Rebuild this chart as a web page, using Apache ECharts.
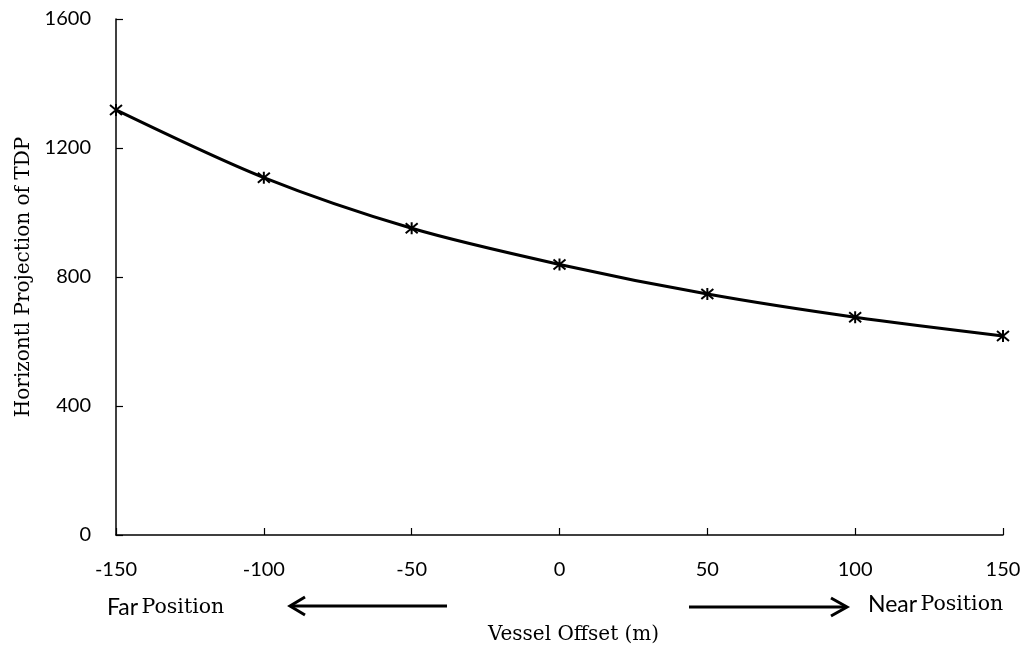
<!DOCTYPE html>
<html><head><meta charset="utf-8">
<script src="https://cdn.jsdelivr.net/npm/echarts@6/dist/echarts.min.js"></script>
<style>html,body{margin:0;padding:0;background:#fff}#c{width:1032px;height:650px}</style>
</head><body><div id="c"></div>
<script>
const offsets = [-150, -100, -50, 0, 50, 100, 150];
const tdpValues = [1318, 1108, 951, 839, 747, 675, 617];
const xTicks = [-150, -100, -50, 0, 50, 100, 150];
const yTicks = [0, 400, 800, 1200, 1600];
const xTitle = 'Vessel Offset (m)';
const yTitle = 'Horizontl Projection of TDP';

const sans = 'Lato, "Open Sans", sans-serif';
const serif = '"DejaVu Serif", "Liberation Serif", serif';
const star = 'path://M0,0 L10,10 M10,0 L0,10 M5,-1 L5,11';

const chart = echarts.init(document.getElementById('c'));
chart.setOption({
  animation: false,
  backgroundColor: '#fff',
  grid: {left: 116, right: 29, top: 19, bottom: 115, containLabel: false},
  xAxis: {
    type: 'value', min: -150, max: 150, interval: 50,
    axisLine: {onZero: false, lineStyle: {color: '#000', width: 1.5}},
    axisTick: {show: true, inside: false, length: -7, lineStyle: {color: '#000', width: 1.2}},
    splitLine: {show: false},
    axisLabel: {color: '#000', fontSize: 20, fontFamily: sans, margin: 25, formatter: v => String(v)},
    name: xTitle, nameLocation: 'middle', nameGap: 90,
    nameTextStyle: {color: '#000', fontSize: 20, fontFamily: serif, padding: [0, 0, 0, 28]}
  },
  yAxis: {
    type: 'value', min: 0, max: 1600, interval: 400,
    axisLine: {show: true, onZero: false, lineStyle: {color: '#000', width: 1.5}},
    axisTick: {show: true, inside: false, length: -7, lineStyle: {color: '#000', width: 1.2}},
    splitLine: {show: false},
    axisLabel: {color: '#000', fontSize: 20, fontFamily: sans, margin: 25, formatter: v => String(v)},
    name: yTitle, nameLocation: 'middle', nameGap: 72, nameRotate: 90,
    nameTextStyle: {color: '#000', fontSize: 20, fontFamily: serif}
  },
  series: [{
    type: 'line',
    data: offsets.map((x, i) => [x, tdpValues[i]]),
    smooth: 0.3,
    lineStyle: {color: '#000', width: 3},
    symbol: star, symbolSize: 12, showAllSymbol: true,
    itemStyle: {color: 'none', borderColor: '#000', borderWidth: 2},
    clip: false
  }],
  graphic: [
    {type: 'text', left: 107, top: 596, style: {
      rich: {a: {fontFamily: sans, fontSize: 23, fill: '#000'}, b: {fontFamily: serif, fontSize: 20.5, fill: '#000'}},
      text: '{a|Far} {b|Position}'
    }},
    {type: 'text', left: 868, top: 593, style: {
      rich: {a: {fontFamily: sans, fontSize: 23, fill: '#000'}, b: {fontFamily: serif, fontSize: 20.5, fill: '#000'}},
      text: '{a|Near} {b|Position}'
    }},
    {type: 'polyline', shape: {points: [[447, 606], [292, 606]]}, style: {stroke: '#000', lineWidth: 3}},
    {type: 'polyline', shape: {points: [[305, 597], [290, 606], [305, 615]]}, style: {stroke: '#000', lineWidth: 3, fill: 'none'}},
    {type: 'polyline', shape: {points: [[689, 607], [846, 607]]}, style: {stroke: '#000', lineWidth: 3}},
    {type: 'polyline', shape: {points: [[831, 598], [847, 607], [831, 616]]}, style: {stroke: '#000', lineWidth: 3, fill: 'none'}}
  ]
});
</script></body></html>
